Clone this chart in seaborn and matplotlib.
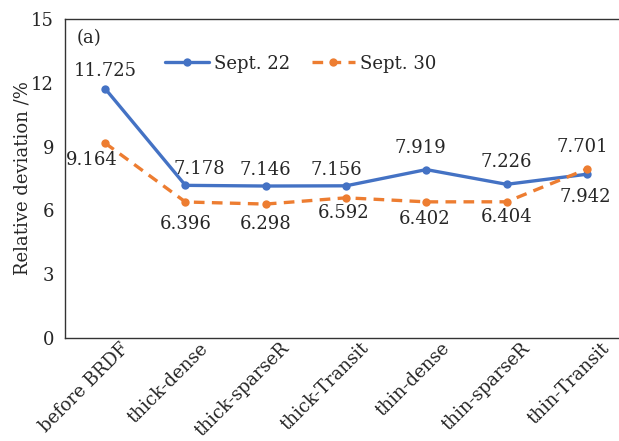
import matplotlib
matplotlib.use("Agg")
import matplotlib.pyplot as plt
import matplotlib.transforms as mtransforms
import numpy as np
import pandas as pd
import seaborn as sns

categories = ["before BRDF", "thick-dense", "thick-sparseR", "thick-Transit",
              "thin-dense", "thin-sparseR", "thin-Transit"]
sept22 = [11.725, 7.178, 7.146, 7.156, 7.919, 7.226, 7.701]
sept30 = [9.164, 6.396, 6.298, 6.592, 6.402, 6.404, 7.942]
series_names = ["Sept. 22", "Sept. 30"]
yticks = [0, 3, 6, 9, 12, 15]

# label offsets from each marker, in pixels (dx, dy; dy positive = upward)
offsets22 = [(0, 18), (14, 16), (0, 16), (-10, 16), (-6, 22), (0, 22), (-5, 27)]
offsets30 = [(-13, -17), (0, -22), (0, -20), (-2, -15), (-2, -17), (0, -15), (-2, -28)]

blue = "#4472C4"
orange = "#ED7D31"

sns.set_theme(style="white")
plt.rcParams["font.family"] = ["DejaVu Serif"]
plt.rcParams["mathtext.fontset"] = "dejavuserif"

df = pd.DataFrame({
    "category": categories * 2,
    "value": sept22 + sept30,
    "series": [series_names[0]] * len(categories) + [series_names[1]] * len(categories),
})

fig = plt.figure(figsize=(6.19, 4.41), dpi=100)
ax = fig.add_axes([65 / 619, 1 - 338 / 441, (627 - 65) / 619, (338 - 19) / 441])

sns.lineplot(
    data=df, x="category", y="value", hue="series", style="series",
    palette={series_names[0]: blue, series_names[1]: orange},
    dashes={series_names[0]: "", series_names[1]: (3.2, 2.2)},
    markers={series_names[0]: "o", series_names[1]: "o"},
    markersize=6, markeredgewidth=0, linewidth=2.4, sort=False, ax=ax,
)

ax.set_xlim(-0.5, len(categories) - 0.5)
ax.set_ylim(0, 15)
ax.set_yticks(yticks)
ax.set_yticklabels([str(t) for t in yticks], fontsize=13)
ax.set_ylabel("Relative deviation /%", fontsize=13)
ax.yaxis.set_label_coords(-33 / 562, 0.5)
ax.set_xlabel("")

# category ticks; boundary ticks between categories point inward
ax.set_xticks(range(len(categories)))
ax.set_xticks(np.arange(0.5, len(categories) - 0.5, 1.0), minor=True)
ax.tick_params(axis="x", length=0, pad=1)
ax.tick_params(axis="x", which="minor", direction="in", length=4, width=1, color="#333333")
ax.tick_params(axis="y", direction="in", length=4, width=1, color="#333333", pad=8)

# rotated category labels, nudged right
ax.set_xticklabels(categories, rotation=45, ha="right", rotation_mode="anchor", fontsize=13)
shift = mtransforms.ScaledTranslation(14 / 100, 0, fig.dpi_scale_trans)
for lbl in ax.get_xticklabels():
    lbl.set_transform(lbl.get_transform() + shift)

for side in ["left", "bottom", "top"]:
    ax.spines[side].set_color("#333333")
    ax.spines[side].set_linewidth(1.0)
ax.spines["right"].set_visible(False)

# value labels
px = 72 / fig.dpi
for i, v in enumerate(sept22):
    dx, dy = offsets22[i]
    ax.annotate(f"{v:.3f}", (i, v), xytext=(dx * px, dy * px), textcoords="offset points",
                ha="center", va="center", fontsize=13)
for i, v in enumerate(sept30):
    dx, dy = offsets30[i]
    ax.annotate(f"{v:.3f}", (i, v), xytext=(dx * px, dy * px), textcoords="offset points",
                ha="center", va="center", fontsize=13)

ax.text(0.02, 0.94, "(a)", transform=ax.transAxes, fontsize=13, ha="left", va="center")

leg = ax.legend(loc="center", bbox_to_anchor=(0.42, 0.86), ncol=2, frameon=False,
                fontsize=13, handlelength=2.4, columnspacing=1.2, handletextpad=0.3)

fig.savefig("out.png", dpi=100)
